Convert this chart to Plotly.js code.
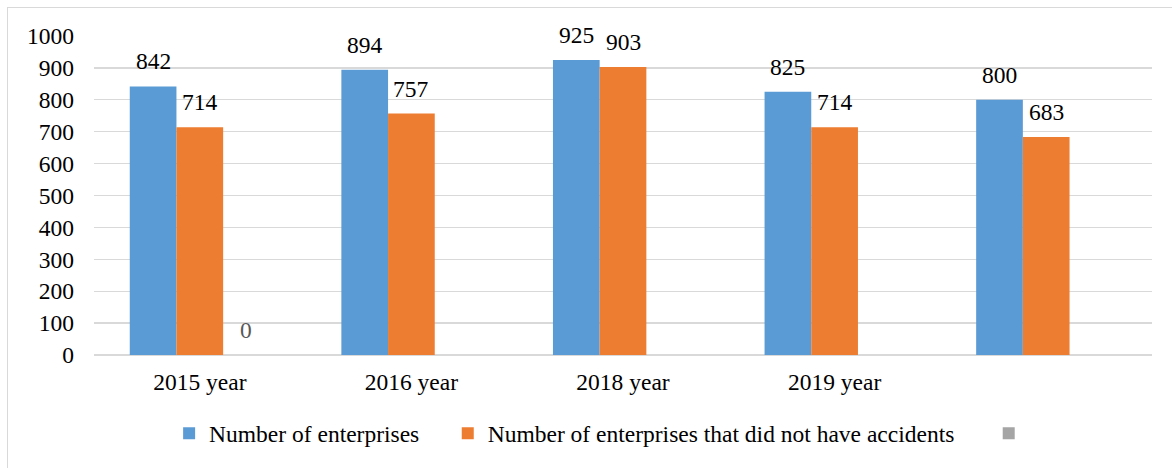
<!DOCTYPE html>
<html>
<head>
<meta charset="utf-8">
<script src="https://cdn.plot.ly/plotly-3.0.1.min.js"></script>
<style>
  html, body { margin: 0; padding: 0; background: #fff; }
  #wrap { position: relative; width: 1172px; height: 468px; overflow: hidden; }
  #frame { position: absolute; left: 7px; top: 7px; width: 1300px; height: 600px;
           border-left: 1px solid #d9d9d9; border-top: 1px solid #d9d9d9; }
  #chart { position: absolute; left: 0; top: 0; width: 1172px; height: 468px; }
</style>
</head>
<body>
<div id="wrap">
  <div id="frame"></div>
  <div id="chart"></div>
</div>
<script>
// ---- data ----
var categories = ['2015 year', '2016 year', '2018 year', '2019 year', ''];
var enterprises = [842, 894, 925, 825, 800];
var noAccidents = [714, 757, 903, 714, 683];
var thirdSeries = [0, null, null, null, null];
var seriesNames = ['Number of enterprises', 'Number of enterprises that did not have accidents', ''];
var yTicks = [0, 100, 200, 300, 400, 500, 600, 700, 800, 900, 1000];

// ---- styling ----
var FONT = 'Liberation Serif';
var FS = 23.5;
var colors = ['#5b9bd5', '#ed7d31', '#a5a5a5'];
var labelColors = ['#000000', '#000000', '#595959'];
var W = 1172, H = 468;
var margin = { l: 94, r: 20, t: 36, b: 111 };
var bargap = 0.338;

var xIdx = categories.map(function (_, i) { return i; });
var allSeries = [enterprises, noAccidents, thirdSeries];
var nbsp = '\u00a0';
var legendPad = [nbsp + nbsp + nbsp + nbsp, nbsp + nbsp + nbsp + nbsp + nbsp, nbsp];

var traces = allSeries.map(function (vals, s) {
  return {
    type: 'bar',
    x: xIdx,
    y: vals,
    name: seriesNames[s] + legendPad[s],
    marker: { color: colors[s], line: { width: 0 } },
    hoverinfo: 'skip'
  };
});

// data labels via annotations placed on the bar tops
var plotW = W - margin.l - margin.r;
var barW = plotW / categories.length * (1 - bargap) / allSeries.length;
var annotations = [];
allSeries.forEach(function (vals, s) {
  vals.forEach(function (v, j) {
    if (v === null) return;
    annotations.push({
      x: xIdx[j], y: v, xref: 'x', yref: 'y',
      text: String(v), showarrow: false,
      xanchor: 'center', yanchor: 'bottom',
      xshift: (s - (allSeries.length - 1) / 2) * barW,
      yshift: 10,
      font: { family: FONT, size: FS, color: labelColors[s] }
    });
  });
});

var layout = {
  width: W, height: H,
  margin: margin,
  paper_bgcolor: 'rgba(0,0,0,0)',
  plot_bgcolor: 'rgba(0,0,0,0)',
  barmode: 'group',
  bargap: bargap,
  bargroupgap: 0,
  font: { family: FONT, size: FS, color: '#000' },
  xaxis: {
    tickmode: 'array', tickvals: xIdx, ticktext: categories,
    range: [-0.5, categories.length - 0.5],
    showgrid: false, zeroline: false, showline: false, ticks: '',
    ticklabelstandoff: 10,
    tickfont: { family: FONT, size: FS, color: '#000' }
  },
  yaxis: {
    range: [0, 1000], tickmode: 'array', tickvals: yTicks,
    showgrid: true, gridcolor: '#d9d9d9', gridwidth: 1.3,
    zeroline: true, zerolinecolor: '#d9d9d9', zerolinewidth: 1.3,
    showline: false, ticks: '',
    ticklabelstandoff: 19,
    tickfont: { family: FONT, size: FS, color: '#000' }
  },
  showlegend: true,
  legend: {
    orientation: 'h', x: 0.071, xanchor: 'left', y: -0.246, yanchor: 'middle',
    font: { family: FONT, size: FS, color: '#000' },
    bgcolor: 'rgba(0,0,0,0)', traceorder: 'normal'
  },
  annotations: annotations,
  hovermode: false
};

Plotly.newPlot('chart', traces, layout, { displayModeBar: false, staticPlot: true });
</script>
</body>
</html>
